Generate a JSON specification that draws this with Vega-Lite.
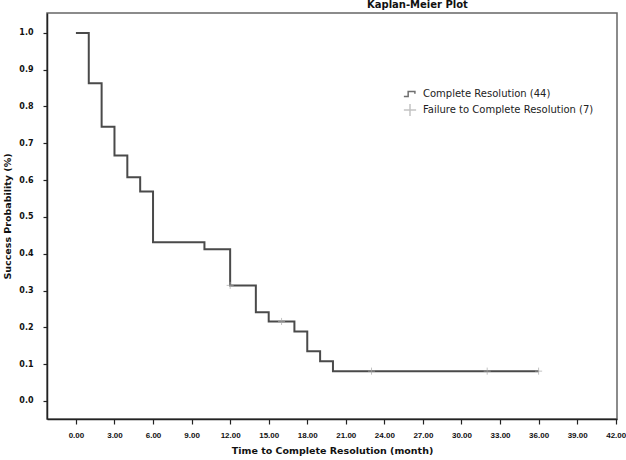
{
  "$schema": "https://vega.github.io/schema/vega-lite/v6.json",
  "width": 570,
  "height": 406,
  "autosize": {"type": "none"},
  "padding": {"left": 47, "top": 13, "right": 9, "bottom": 41},
  "background": "white",
  "title": {
    "text": "Kaplan-Meier Plot",
    "anchor": "start",
    "frame": "group",
    "dx": 320,
    "offset": 3,
    "fontSize": 10,
    "fontWeight": "bold",
    "font": "DejaVu Sans",
    "color": "#111"
  },
  "config": {
    "view": {"stroke": "#666", "strokeWidth": 1.5},
    "font": "DejaVu Sans",
    "axis": {
      "grid": false,
      "domainColor": "#222",
      "domainWidth": 1.5,
      "tickColor": "#222",
      "tickWidth": 1.2,
      "labelFontSize": 8,
      "labelFontWeight": "bold",
      "labelColor": "#111",
      "titleFontSize": 9.5,
      "titleFontWeight": "bold",
      "titleColor": "#111"
    }
  },
  "datasets": {
    "km": [
      {"t": 0, "s": 1.0},
      {"t": 1, "s": 0.863},
      {"t": 2, "s": 0.745},
      {"t": 3, "s": 0.667},
      {"t": 4, "s": 0.608},
      {"t": 5, "s": 0.569},
      {"t": 6, "s": 0.431},
      {"t": 10, "s": 0.412},
      {"t": 12, "s": 0.314},
      {"t": 14, "s": 0.241},
      {"t": 15, "s": 0.216},
      {"t": 17, "s": 0.189},
      {"t": 18, "s": 0.135},
      {"t": 19, "s": 0.108},
      {"t": 20, "s": 0.081},
      {"t": 36, "s": 0.081}
    ],
    "cens": [
      {"t": 12, "s": 0.314, "series": "Failure to Complete Resolution (7)"},
      {"t": 16, "s": 0.216, "series": "Failure to Complete Resolution (7)"},
      {"t": 23, "s": 0.081, "series": "Failure to Complete Resolution (7)"},
      {"t": 32, "s": 0.081, "series": "Failure to Complete Resolution (7)"},
      {"t": 36, "s": 0.081, "series": "Failure to Complete Resolution (7)"}
    ]
  },
  "layer": [
    {
      "data": {"name": "km"},
      "mark": {"type": "line", "interpolate": "step-after", "color": "#4a4a4a", "strokeWidth": 2, "clip": true},
      "encoding": {
        "x": {
          "field": "t", "type": "quantitative",
          "scale": {"domain": [-2.25, 42.1], "nice": false, "zero": false},
          "axis": {
            "values": [0, 3, 6, 9, 12, 15, 18, 21, 24, 27, 30, 33, 36, 39, 42],
            "format": ".2f",
            "title": "Time to Complete Resolution (month)",
            "labelFont": "Liberation Sans",
            "labelFontSize": 8,
            "tickSize": 5,
            "labelPadding": 7,
            "titlePadding": 6
          }
        },
        "y": {
          "field": "s", "type": "quantitative",
          "scale": {"domain": [-0.049, 1.054], "nice": false, "zero": false},
          "axis": {
            "values": [0, 0.1, 0.2, 0.3, 0.4, 0.5, 0.6, 0.7, 0.8, 0.9, 1.0],
            "format": ".1f",
            "title": "Success Probability (%)",
            "tickSize": 4,
            "labelPadding": 10,
            "titlePadding": 6
          }
        }
      }
    },
    {
      "data": {"name": "cens"},
      "mark": {"type": "point", "filled": false, "strokeWidth": 1, "size": 50},
      "encoding": {
        "x": {"field": "t", "type": "quantitative"},
        "y": {"field": "s", "type": "quantitative"},
        "color": {
          "field": "series", "type": "nominal",
          "scale": {
            "domain": ["Complete Resolution (44)", "Failure to Complete Resolution (7)"],
            "range": ["#333333", "#aaaaaa"]
          },
          "legend": {
            "title": null,
            "orient": "none",
            "legendX": 356,
            "legendY": 74,
            "labelFontSize": 10,
            "labelColor": "#222",
            "labelFont": "DejaVu Sans",
            "labelLimit": 0,
            "symbolSize": 150,
            "symbolStrokeWidth": 1.5,
            "rowPadding": 0,
            "labelOffset": 6
          }
        },
        "shape": {
          "field": "series", "type": "nominal",
          "scale": {
            "domain": ["Complete Resolution (44)", "Failure to Complete Resolution (7)"],
            "range": ["M-1,0.4H-0.3V-0.4H0.8V-0.05", "M-1,0H1M0,-1V1"]
          },
          "legend": {
            "title": null,
            "orient": "none",
            "legendX": 356,
            "legendY": 74,
            "labelFontSize": 10,
            "labelColor": "#222",
            "labelLimit": 0,
            "symbolSize": 150,
            "symbolStrokeWidth": 1.5,
            "rowPadding": 0,
            "labelOffset": 6
          }
        }
      }
    }
  ]
}
